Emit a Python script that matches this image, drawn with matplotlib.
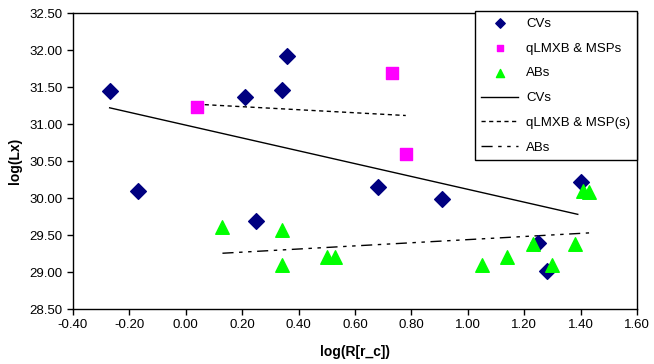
import matplotlib.pyplot as plt
import numpy as np

plt.rcParams['font.family'] = ['Liberation Sans', 'DejaVu Sans']

# CVs
cv_x = [-0.27, -0.17, 0.21, 0.34, 0.36, 0.25, 0.68, 0.91, 1.25, 1.28, 1.40]
cv_y = [31.45, 30.09, 31.36, 31.46, 31.92, 29.69, 30.15, 29.99, 29.39, 29.01, 30.22]

# qLMXB & MSPs
ms_x = [0.04, 0.73, 0.78]
ms_y = [31.23, 31.69, 30.59]

# ABs
ab_x = [0.13, 0.34, 0.34, 0.50, 0.53, 1.05, 1.14, 1.23, 1.30, 1.38, 1.41, 1.43]
ab_y = [29.61, 29.57, 29.09, 29.20, 29.20, 29.09, 29.20, 29.38, 29.10, 29.38, 30.10, 30.08]

# CV trend line (end values)
cv_trend_x = [-0.27, 1.39]
cv_trend_y = [31.22, 29.78]

fig = plt.figure(figsize=(6.54, 3.64), dpi=100)
ax = fig.add_axes([0.1116, 0.151, 0.8624, 0.813])

ax.scatter(cv_x, cv_y, marker='D', s=64, color='#000080', label='CVs', zorder=3)
ax.scatter(ms_x, ms_y, marker='s', s=70, color='#FF00FF', label='qLMXB & MSPs', zorder=3)
ax.scatter(ab_x, ab_y, marker='^', s=95, color='#00FF00', label='ABs', zorder=3)

# linear trend lines
def trend(xs, ys):
    k, b = np.polyfit(xs, ys, 1)
    xx = np.array([min(xs), max(xs)])
    return xx, k * xx + b

ax.plot(cv_trend_x, cv_trend_y, color='black', lw=1, label='CVs')
tx, ty = trend(ms_x, ms_y)
ax.plot(tx, ty, color='black', lw=1, dashes=(3, 2.5), label='qLMXB & MSP(s)')
tx, ty = trend(ab_x, ab_y)
ax.plot(tx, ty, color='black', lw=1, dashes=(8, 4, 2.5, 4, 2.5, 4), label='ABs')

ax.set_xlim(-0.4, 1.6)
ax.set_ylim(28.5, 32.5)
ax.set_xticks(np.arange(-0.4, 1.61, 0.2))
ax.set_yticks(np.arange(28.5, 32.51, 0.5))
ax.xaxis.set_major_formatter(plt.FuncFormatter(lambda v, p: f'{v:.2f}'))
ax.yaxis.set_major_formatter(plt.FuncFormatter(lambda v, p: f'{v:.2f}'))
ax.tick_params(direction='out', length=4, width=1, labelsize=9.5, color='black')
for s in ax.spines.values():
    s.set_linewidth(1)

ax.set_xlabel('log(R[r_c])', fontsize=10, fontweight='bold', labelpad=10)
ax.set_ylabel('log(Lx)', fontsize=10, fontweight='bold', labelpad=5)

leg = ax.legend(loc='upper right', bbox_to_anchor=(1.0, 1.007), borderaxespad=0,
                fancybox=False, edgecolor='black', framealpha=1, fontsize=9.5,
                labelspacing=0.95, handlelength=2.8, handletextpad=0.6,
                borderpad=0.5, scatterpoints=1, markerscale=0.6)
leg.get_frame().set_linewidth(1)

fig.savefig('out.png', dpi=100)
